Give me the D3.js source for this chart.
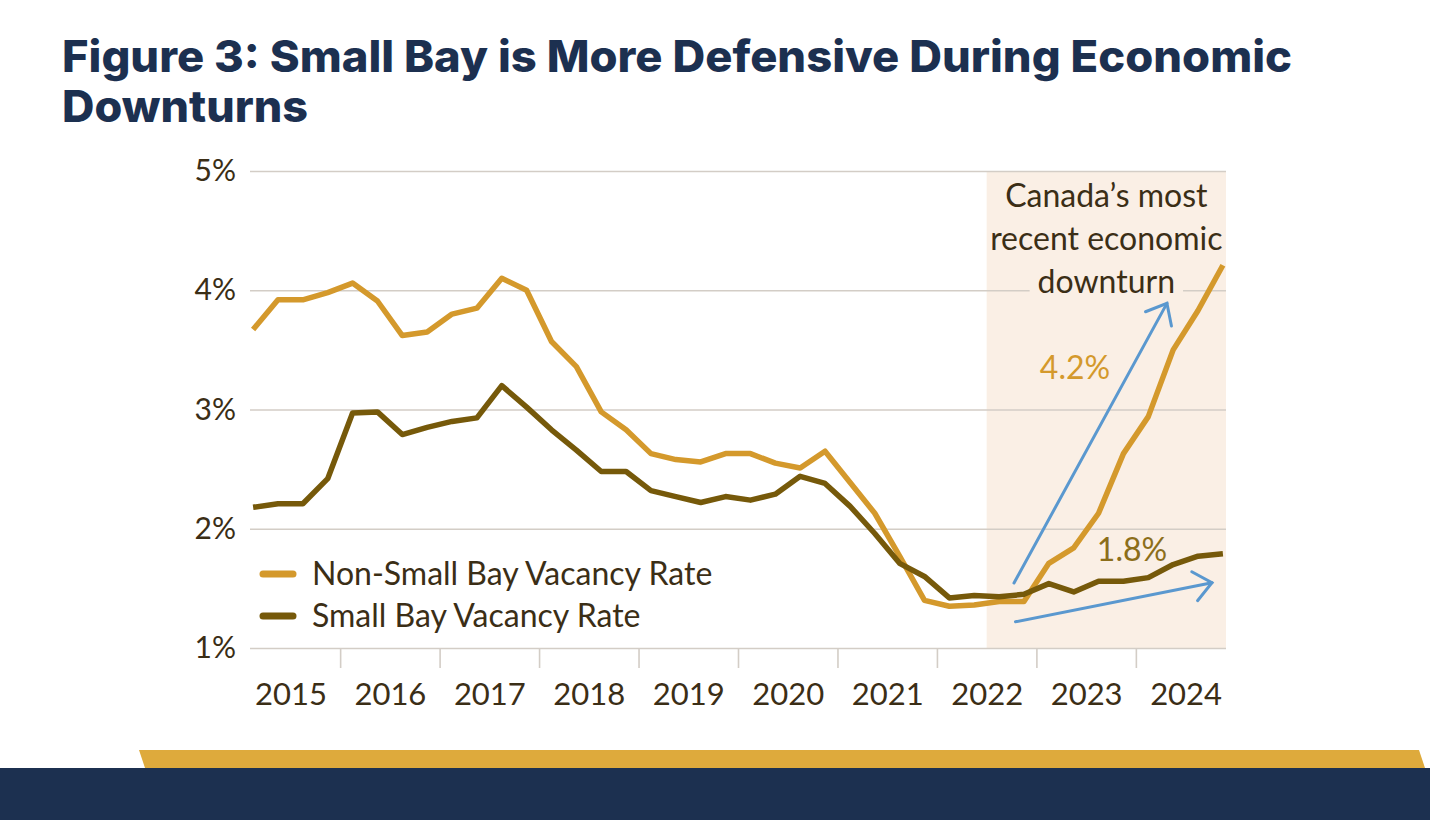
<!DOCTYPE html>
<html>
<head>
<meta charset="utf-8">
<script src="https://cdn.jsdelivr.net/npm/d3@7"></script>
<style>
  body { margin: 0; background: #fff; }
  svg text { font-family: Lato, "Open Sans", sans-serif; }
</style>
</head>
<body>
<div id="chart"></div>
<script>
// Data (quarterly, 2015 Q1 - 2024 Q4)
const years = ["2015", "2016", "2017", "2018", "2019", "2020", "2021", "2022", "2023", "2024"];
const quarters = years.flatMap((y) => ["Q1", "Q2", "Q3", "Q4"].map((q) => y + " " + q));
const nonSmallBay = [3.67, 3.92, 3.92, 3.98, 4.06, 3.91, 3.62, 3.65, 3.80, 3.85, 4.10, 4.00,
  3.57, 3.36, 2.98, 2.83, 2.63, 2.58, 2.56, 2.63, 2.63, 2.55, 2.51, 2.65,
  2.39, 2.13, 1.77, 1.40, 1.35, 1.36, 1.39, 1.39, 1.71, 1.84, 2.13, 2.63,
  2.94, 3.50, 3.83, 4.21];
const smallBay = [2.18, 2.21, 2.21, 2.42, 2.97, 2.98, 2.79, 2.85, 2.90, 2.93, 3.20, 3.02,
  2.83, 2.66, 2.48, 2.48, 2.32, 2.27, 2.22, 2.27, 2.24, 2.29, 2.44, 2.38,
  2.19, 1.96, 1.71, 1.60, 1.42, 1.44, 1.43, 1.45, 1.54, 1.47, 1.56, 1.56,
  1.59, 1.70, 1.77, 1.79];
const yTicks = [1, 2, 3, 4, 5];
const seriesNames = ["Non-Small Bay Vacancy Rate", "Small Bay Vacancy Rate"];
const downturnStart = 29.5; // between 2022 Q2 and Q3
const downturnLines = ["Canada\u2019s most", "recent economic", "downturn"];
// annotation arrows in (quarter index, %) units
const arrowNonSmall = [[30.6, 1.545], [36.75, 3.89]];
const arrowSmall = [[30.66, 1.22], [38.56, 1.547]];

const colors = { nonSmall: "#D4992C", small: "#76590A", text: "#3B2E16", grid: "#D3CDC6",
  shade: "#FAEFE5", arrow: "#5A98CF", navy: "#1C3050", gold: "#DEAA3C" };

const W = 1430, H = 820;
const svg = d3.select("#chart").append("svg").attr("width", W).attr("height", H);

// Title
const title = svg.append("g").attr("fill", colors.navy)
  .style("font-weight", 800).style("font-size", "44px");
title.append("text").attr("x", 62).attr("y", 72)
  .style("font-family", "Inter, 'Open Sans', sans-serif")
  .attr("textLength", 1230).attr("lengthAdjust", "spacingAndGlyphs")
  .text("Figure 3: Small Bay is More Defensive During Economic");
title.append("text").attr("x", 62).attr("y", 122)
  .style("font-family", "Inter, 'Open Sans', sans-serif")
  .attr("textLength", 246).attr("lengthAdjust", "spacingAndGlyphs")
  .text("Downturns");

// Scales
const x = d3.scaleLinear().domain([-0.125, 39.125]).range([250, 1226]);
const y = d3.scaleLinear().domain([1, 5]).range([648, 171]);

// Shaded downturn region
svg.append("rect")
  .attr("x", x(downturnStart)).attr("y", y(5))
  .attr("width", x(39.125) - x(downturnStart)).attr("height", y(1) - y(5))
  .attr("fill", colors.shade);

// Y axis + gridlines
const yAxis = d3.axisLeft(y).tickValues(yTicks).tickFormat((d) => d + "%")
  .tickSize(-(x.range()[1] - x.range()[0])).tickPadding(14);
const gY = svg.append("g").attr("transform", `translate(${x.range()[0]},0)`).call(yAxis);
gY.select(".domain").remove();
gY.selectAll("line").attr("stroke", colors.grid).attr("stroke-width", 1.6);
gY.selectAll("text").attr("fill", colors.text).style("font-size", "30px");

// X axis: year separators and year labels
const sepTicks = d3.range(1, years.length).map((i) => i * 4 - 0.5);
const xAxis = d3.axisBottom(x).tickValues(sepTicks).tickFormat("").tickSize(20).tickSizeOuter(0);
const gX = svg.append("g").attr("transform", `translate(0,${y(1)})`).call(xAxis);
gX.select(".domain").remove();
gX.selectAll("line").attr("stroke", colors.grid).attr("stroke-width", 1.6);

const labelAxis = d3.axisBottom(x).tickValues(years.map((d, i) => i * 4 + 1.5))
  .tickFormat((d, i) => years[i]).tickSize(0).tickPadding(35);
const gL = svg.append("g").attr("transform", `translate(0,${y(1)})`).call(labelAxis);
gL.select(".domain").remove();
gL.selectAll("text").attr("fill", colors.text).style("font-size", "31px");

// downturn annotation text (with background box that cuts the gridline)
const annX = (x(downturnStart) + x(39.125)) / 2;
const ann = svg.append("g").attr("fill", colors.text).style("font-size", "32px").attr("text-anchor", "middle");
downturnLines.forEach((t, i) => {
  const txt = ann.append("text").attr("x", annX).attr("y", 207 + i * 43).text(t);
  if (i === downturnLines.length - 1) {
    const bb = txt.node().getBBox();
    ann.insert("rect", "text").attr("x", bb.x - 8).attr("y", bb.y)
      .attr("width", bb.width + 16).attr("height", bb.height).attr("fill", colors.shade);
  }
});

// Lines
const line = d3.line().x((d, i) => x(i)).y((d) => y(d));
svg.append("path").datum(nonSmallBay).attr("d", line)
  .attr("fill", "none").attr("stroke", colors.nonSmall).attr("stroke-width", 5.5)
  .attr("stroke-linejoin", "round");
svg.append("path").datum(smallBay).attr("d", line)
  .attr("fill", "none").attr("stroke", colors.small).attr("stroke-width", 5.5)
  .attr("stroke-linejoin", "round");

// Arrows
function drawArrow(pts) {
  const [a, b] = pts.map((p) => [x(p[0]), y(p[1])]);
  const ang = Math.atan2(a[1] - b[1], a[0] - b[0]);
  const len = 23, spread = 40 * Math.PI / 180;
  const w1 = [b[0] + len * Math.cos(ang + spread), b[1] + len * Math.sin(ang + spread)];
  const w2 = [b[0] + len * Math.cos(ang - spread), b[1] + len * Math.sin(ang - spread)];
  const g = svg.append("g").attr("stroke", colors.arrow).attr("stroke-width", 3)
    .attr("fill", "none").attr("stroke-linecap", "round");
  g.append("path").attr("d", d3.line()([a, b]));
  g.append("path").attr("d", d3.line()([w1, b, w2]));
}
drawArrow(arrowNonSmall);
drawArrow(arrowSmall);

// End value labels
svg.append("text").attr("x", 1075).attr("y", 379).attr("text-anchor", "middle")
  .attr("fill", colors.nonSmall).style("font-size", "32px")
  .text(nonSmallBay[nonSmallBay.length - 1].toFixed(1) + "%");
svg.append("text").attr("x", 1132).attr("y", 561).attr("text-anchor", "middle")
  .attr("fill", "#8C6E1A").style("font-size", "32px")
  .text(smallBay[smallBay.length - 1].toFixed(1) + "%");

// Legend
const legend = svg.append("g").attr("transform", "translate(260,574)");
[colors.nonSmall, colors.small].forEach((c, i) => {
  const row = legend.append("g").attr("transform", `translate(0,${i * 42})`);
  row.append("line").attr("x1", 3).attr("x2", 33).attr("y1", 0).attr("y2", 0)
    .attr("stroke", c).attr("stroke-width", 7).attr("stroke-linecap", "round");
  row.append("text").attr("x", 52).attr("y", 11).attr("fill", colors.text)
    .style("font-size", "32px").text(seriesNames[i]);
});

// Footer band
svg.append("polygon").attr("points", "139,750 1419,750 1425,768 145,768").attr("fill", colors.gold);
svg.append("rect").attr("x", 0).attr("y", 768).attr("width", W).attr("height", H - 768).attr("fill", colors.navy);
</script>
</body>
</html>
